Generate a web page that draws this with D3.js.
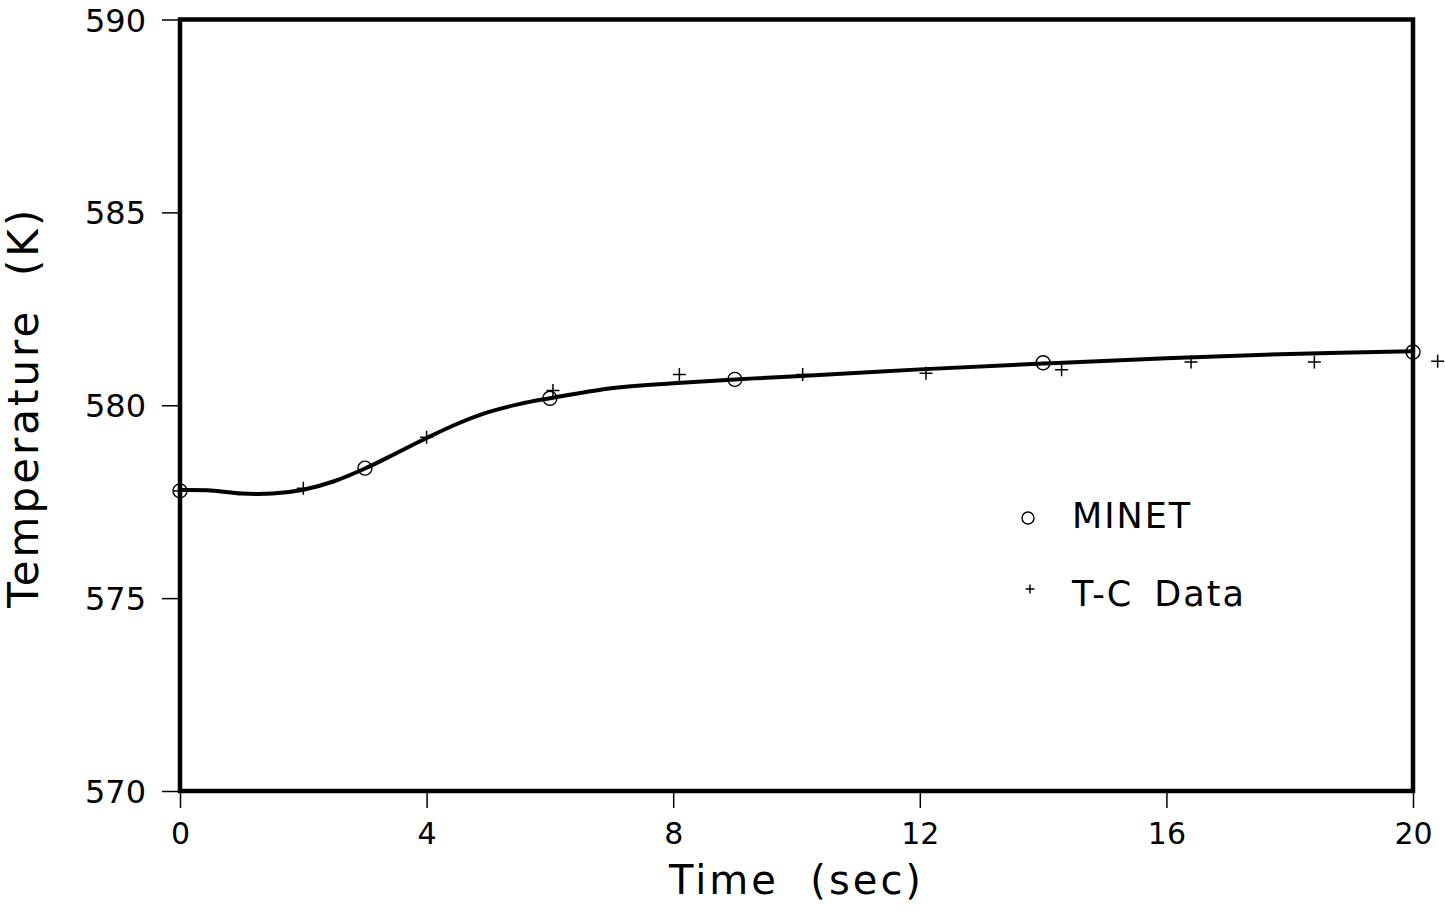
<!DOCTYPE html>
<html>
<head>
<meta charset="utf-8">
<script src="https://cdn.jsdelivr.net/npm/d3@7"></script>
<style>
  html, body { margin: 0; padding: 0; background: #fff; }
  svg { display: block; }
  text { font-family: "DejaVu Sans", sans-serif; fill: #000; }
</style>
</head>
<body>
<svg id="chart" width="1445" height="913"></svg>
<script>
// ---- data ----
const xTicks = [0, 4, 8, 12, 16, 20];
const yTicks = [570, 575, 580, 585, 590];

// MINET computed curve (time, temperature)
const curveTime = [0, 0.5, 1.0, 1.5, 2.0, 2.5, 3.0, 3.5, 4.0, 4.5, 5.0, 5.5, 6.0, 7.0, 8.0, 9.0, 10.0, 12.0, 14.0, 16.0, 18.0, 20.0];
const curveTemp = [577.80, 577.79, 577.71, 577.71, 577.81, 578.03, 578.36, 578.75, 579.15, 579.52, 579.82, 580.03, 580.18, 580.44, 580.57, 580.67, 580.75, 580.93, 581.08, 581.22, 581.33, 581.40];

// MINET markers
const minetTime = [0, 3, 6, 9, 14, 20];
const minetTemp = [577.78, 578.37, 580.18, 580.67, 581.10, 581.38];

// T-C thermocouple data
const tcTime = [0, 2.0, 4.0, 6.05, 8.1, 10.1, 12.1, 14.3, 16.4, 18.4, 20.4];
const tcTemp = [577.78, 577.85, 579.17, 580.38, 580.80, 580.80, 580.83, 580.92, 581.12, 581.12, 581.14];

const legendLabels = ["MINET", "T-C Data"];
const xTitle = "Time  (sec)";
const yTitle = "Temperature  (K)";

// ---- drawing ----
const svg = d3.select("#chart");
const x = d3.scaleLinear().domain([0, 20]).range([180, 1413]);
const y = d3.scaleLinear().domain([570, 590]).range([791, 19.5]);

// axes (ticks outside)
const xAxis = d3.axisBottom(x).tickValues(xTicks).tickSize(17).tickPadding(9).tickFormat(d3.format("d"));
const gx = svg.append("g").attr("transform", `translate(0,${y(570)})`).call(xAxis);
gx.select(".domain").remove();
gx.selectAll(".tick line").attr("stroke", "#000").attr("stroke-width", 1.5);
gx.selectAll(".tick text").style("font-size", "30px").attr("dy", "0.9em");

const yAxis = d3.axisLeft(y).tickValues(yTicks).tickSize(18).tickPadding(16).tickFormat(d3.format("d"));
const gy = svg.append("g").attr("transform", `translate(${x(0)},0)`).call(yAxis);
gy.select(".domain").remove();
gy.selectAll(".tick line").attr("stroke", "#000").attr("stroke-width", 1.5);
gy.selectAll(".tick text").style("font-size", "32px").attr("dy", "0.36em");

// frame
svg.append("rect")
  .attr("x", x(0)).attr("y", y(590))
  .attr("width", x(20) - x(0)).attr("height", y(570) - y(590))
  .attr("fill", "none").attr("stroke", "#000").attr("stroke-width", 4.5);

// curve
const lineData = curveTime.map((t, i) => [t, curveTemp[i]]);
svg.append("path")
  .datum(lineData)
  .attr("fill", "none").attr("stroke", "#000").attr("stroke-width", 4)
  .attr("stroke-linejoin", "round")
  .attr("d", d3.line().x(d => x(d[0])).y(d => y(d[1])).curve(d3.curveCatmullRom.alpha(0.5)));

// MINET circles
svg.append("g").selectAll("circle")
  .data(minetTime.map((t, i) => [t, minetTemp[i]]))
  .join("circle")
  .attr("cx", d => x(d[0])).attr("cy", d => y(d[1])).attr("r", 7)
  .attr("fill", "none").attr("stroke", "#000").attr("stroke-width", 1.4);

// crosses
const cross = (g, cx, cy, s) => {
  g.append("path")
    .attr("d", `M${cx - s},${cy}H${cx + s}M${cx},${cy - s}V${cy + s}`)
    .attr("stroke", "#000").attr("stroke-width", 1.5).attr("fill", "none");
};
const gc = svg.append("g");
tcTime.forEach((t, i) => cross(gc, x(t), y(tcTemp[i]), 6.5));

// legend
const lg = svg.append("g");
lg.append("circle").attr("cx", 1028).attr("cy", 518).attr("r", 6)
  .attr("fill", "none").attr("stroke", "#000").attr("stroke-width", 1.4);
lg.append("text").attr("x", 1072).attr("y", 528).style("font-size", "35px").style("letter-spacing", "2px").text(legendLabels[0]);
cross(lg, 1030, 589, 4.5);
lg.append("text").attr("x", 1072).attr("y", 606).style("font-size", "35px").style("letter-spacing", "2px").style("word-spacing", "8px").text(legendLabels[1]);

// axis titles
svg.append("text")
  .attr("x", x(10)).attr("y", 894)
  .attr("text-anchor", "middle")
  .style("font-size", "40px").style("letter-spacing", "3px")
  .style("white-space", "pre")
  .text(xTitle);

svg.append("text")
  .attr("transform", `translate(38,${y(580) + 2}) rotate(-90)`)
  .attr("text-anchor", "middle")
  .style("font-size", "42px").style("letter-spacing", "3px")
  .style("white-space", "pre")
  .text(yTitle);
</script>
</body>
</html>
